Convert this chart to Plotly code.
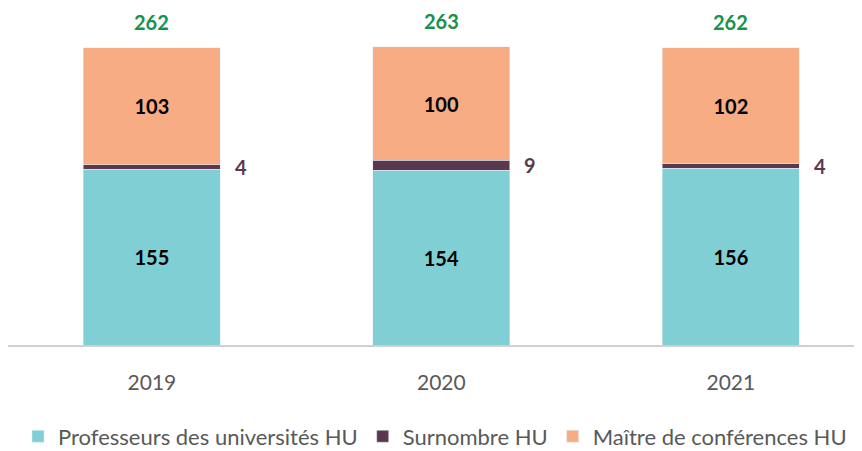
import plotly.graph_objects as go

years = ["2019", "2020", "2021"]
professeurs = [155, 154, 156]
surnombre = [4, 9, 4]
maitres = [103, 100, 102]
totals = [262, 263, 262]

series_names = ["Professeurs des universités HU", "Surnombre HU", "Maître de conférences HU"]
colors = ["#7fcfd5", "#5a384d", "#f8ac84"]

label_font = dict(color="black", size=20, family="Lato", weight="bold")

fig = go.Figure()

fig.add_trace(go.Bar(x=years, y=professeurs, name=series_names[0],
                     marker=dict(color=colors[0]),
                     text=professeurs, textposition="inside", insidetextanchor="middle",
                     textfont=label_font))
fig.add_trace(go.Bar(x=years, y=surnombre, name=series_names[1],
                     marker=dict(color=colors[1])))
fig.add_trace(go.Bar(x=years, y=maitres, name=series_names[2],
                     marker=dict(color=colors[2]),
                     text=maitres, textposition="inside", insidetextanchor="middle",
                     textfont=label_font))

annotations = []
for i in range(len(years)):
    # total above the bar
    annotations.append(dict(x=i, y=totals[i], text="<b>%d</b>" % totals[i],
                            showarrow=False, yanchor="middle", yshift=26,
                            font=dict(color="#15924c", size=20, family="Lato")))
    # surnombre value to the right of the bar
    annotations.append(dict(x=i, y=professeurs[i] + surnombre[i] / 2,
                            text="<b>%d</b>" % surnombre[i],
                            showarrow=False, xshift=89, yanchor="middle",
                            font=dict(color="#5a384d", size=20, family="Lato")))

# page body keeps an 8px margin, so the figure is sized to the remaining window
fig.update_layout(
    barmode="stack",
    bargap=0.527,
    width=854, height=443,
    margin=dict(l=0, r=0, t=2, b=106, autoexpand=False),
    plot_bgcolor="white", paper_bgcolor="white",
    font=dict(family="Lato", color="#595959", size=21),
    xaxis=dict(type="category", range=[-0.497, 2.453], showline=True,
               linecolor="#d0d0d0", linewidth=1.5,
               ticks="outside", ticklen=18, tickcolor="rgba(0,0,0,0)",
               tickfont=dict(size=21, color="#595959")),
    yaxis=dict(range=[0, 295.5], visible=False),
    legend=dict(orientation="h", x=0.5, xanchor="center", y=-0.273, yanchor="middle",
                font=dict(size=22, color="#595959"), traceorder="normal",
                itemwidth=30),
    showlegend=True,
    annotations=annotations,
)

fig.write_html("out.html")
